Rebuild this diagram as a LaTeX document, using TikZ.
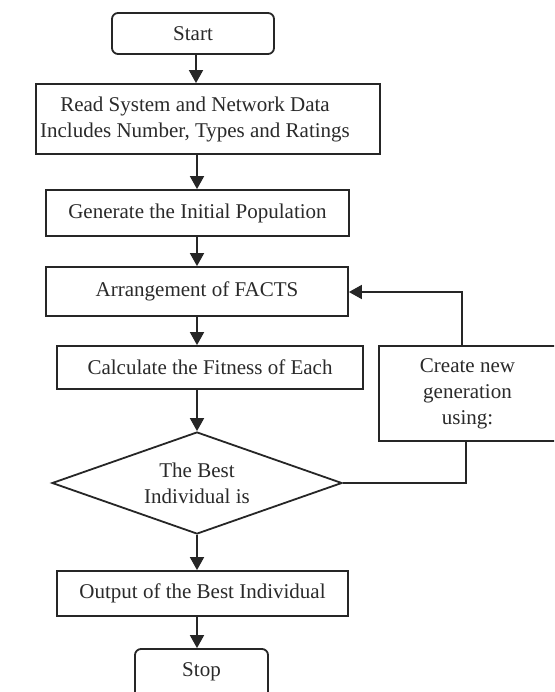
\documentclass[tikz,border=0pt]{standalone}
\usepackage{fontspec}
\setmainfont{Liberation Serif}
\usetikzlibrary{arrows.meta,shapes.geometric}
\definecolor{linec}{HTML}{262626}
\definecolor{textc}{HTML}{2A2A2A}
\begin{document}
\begin{tikzpicture}[x=1pt,y=-1pt,
  every node/.style={font=\fontsize{21}{26}\selectfont, text=textc},
  box/.style={draw=linec, line width=1.8pt, rectangle, inner sep=0pt, align=center},
  rbox/.style={box, rounded corners=6pt},
  flow/.style={draw=linec, line width=1.8pt, -{Triangle[width=14pt,length=13pt]}},
  link/.style={draw=linec, line width=1.8pt}]
\clip (0,0) rectangle (554,692);
\fill[white] (0,0) rectangle (554,692);

\node[rbox, minimum width=162pt, minimum height=41pt] (start) at (193,33.5) {Start};
\node[box, minimum width=344pt, minimum height=70pt] (read) at (208,119) {};
\node[align=center] (readlbl) at (195,119) {Read System and Network Data\\Includes Number, Types and Ratings};
\node[box, minimum width=303pt, minimum height=46pt] (gen) at (197.5,213) {Generate the Initial Population};
\node[box, minimum width=302pt, minimum height=49pt] (arr) at (197,291.5) {\raisebox{4pt}{Arrangement of FACTS}};
\node[box, minimum width=306pt, minimum height=43pt] (calc) at (210,367.5) {Calculate the Fitness of Each};
\node[box, minimum width=177pt, minimum height=95pt] (create) at (467.5,393.5) {Create new\\generation\\using:};
\node[diamond, aspect=2.84, draw=linec, line width=1.8pt, inner sep=0pt, minimum width=290pt, minimum height=102pt, align=center] (best) at (197,483) {The Best\\Individual is};
\node[box, minimum width=291pt, minimum height=45pt] (out) at (202.5,593.5) {Output of the Best Individual};
\node[rbox, minimum width=133pt, minimum height=60pt] (stop) at (201.5,679) {};
\node (stoplbl) at (201.5,672) {Stop};

\draw[flow] (start.south -| 196,0) -- (read.north -| 196,0);
\draw[flow] (read.south -| 197,0) -- (gen.north -| 197,0);
\draw[flow] (gen.south -| 197,0) -- (arr.north -| 197,0);
\draw[flow] (arr.south -| 197,0) -- (calc.north -| 197,0);
\draw[flow] (calc.south -| 197,0) -- (best.north);
\draw[flow] (best.south) -- (out.north -| 197,0);
\draw[flow] (out.south -| 197,0) -- (stop.north -| 197,0);

\coordinate (fbtop) at (462,292);
\coordinate (fbbot) at (466,483);
\draw[link] (best.east) -- (fbbot) -- (create.south -| fbbot);
\draw[flow] (create.north -| fbtop) -- (fbtop) -- (arr.east |- fbtop);
\end{tikzpicture}
\end{document}
